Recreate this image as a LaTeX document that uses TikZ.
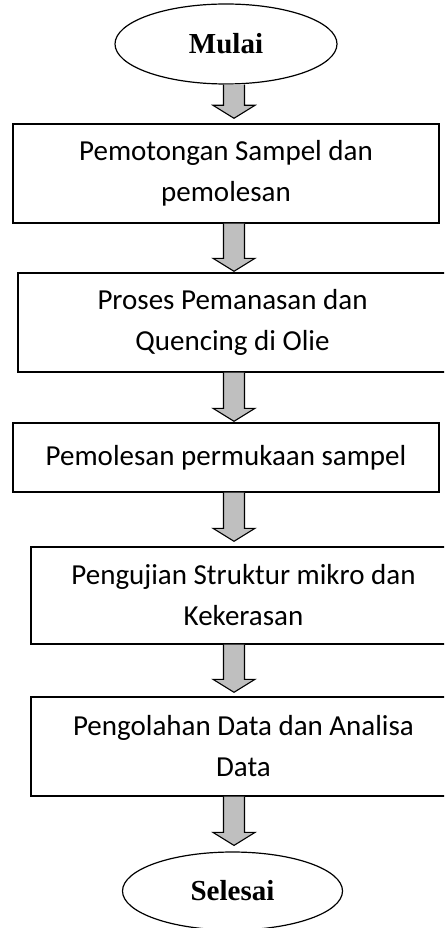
\documentclass[tikz,border=0pt]{standalone}
\usepackage{fontspec}
\setmainfont{Carlito}
\newfontfamily\timesfont{Liberation Serif}
\usetikzlibrary{calc,shapes.geometric}
\definecolor{arrowgray}{RGB}{191,191,191}
\tikzset{
  procbox/.style={draw=black, line width=1.4pt, rectangle, inner sep=0pt, align=center,
    font=\fontsize{29}{41}\selectfont},
  terminal/.style={draw=black, line width=1.2pt, ellipse, inner sep=0pt,
    font=\timesfont\bfseries\fontsize{29}{34}\selectfont},
  blockarrow/.style={draw=black, fill=arrowgray, line width=1.1pt, line join=miter},
}
\newcommand{\flowarrow}[2]{%
  \path[blockarrow] let \p1=#1, \p2=#2 in
    (\x1-10.5pt,\y1) -- (\x1-10.5pt,\y2+13pt) -- (\x1-21pt,\y2+13pt) -- (\x1,\y2)
    -- (\x1+21pt,\y2+13pt) -- (\x1+10.5pt,\y2+13pt) -- (\x1+10.5pt,\y1);}
\begin{document}
\begin{tikzpicture}[x=1pt,y=-1pt]
  \useasboundingbox (0,0) rectangle (444,928);
  \clip (0,0) rectangle (444,928);
  \coordinate (ax) at (234,0);

  \node[terminal, minimum width=222, minimum height=80] (m) at (226,44) {Mulai};
  \node[procbox, minimum width=426, minimum height=99] (b1) at (226,173.5)
    {Pemotongan Sampel dan\\pemolesan};
  \node[procbox, minimum width=429, minimum height=99] (b2) at (232.5,322.5)
    {Proses Pemanasan dan\\Quencing di Olie};
  \node[procbox, minimum width=426, minimum height=69] (b3) at (226,457.5)
    {Pemolesan permukaan sampel};
  \node[procbox, minimum width=425, minimum height=97] (b4) at (243.5,595.5)
    {Pengujian Struktur mikro dan\\Kekerasan};
  \node[procbox, minimum width=425, minimum height=99] (b5) at (243.5,746.5)
    {Pengolahan Data dan Analisa\\Data};
  \node[terminal, minimum width=220, minimum height=78] (s) at (232.5,891) {Selesai};

  \flowarrow{(m.south -| ax)}{([yshift=5pt]b1.north -| ax)}
  \flowarrow{(b1.south -| ax)}{([yshift=1pt]b2.north -| ax)}
  \flowarrow{(b2.south -| ax)}{([yshift=1pt]b3.north -| ax)}
  \flowarrow{(b3.south -| ax)}{([yshift=5pt]b4.north -| ax)}
  \flowarrow{(b4.south -| ax)}{([yshift=4pt]b5.north -| ax)}
  \flowarrow{(b5.south -| ax)}{([yshift=6pt]s.north -| ax)}
\end{tikzpicture}
\end{document}
